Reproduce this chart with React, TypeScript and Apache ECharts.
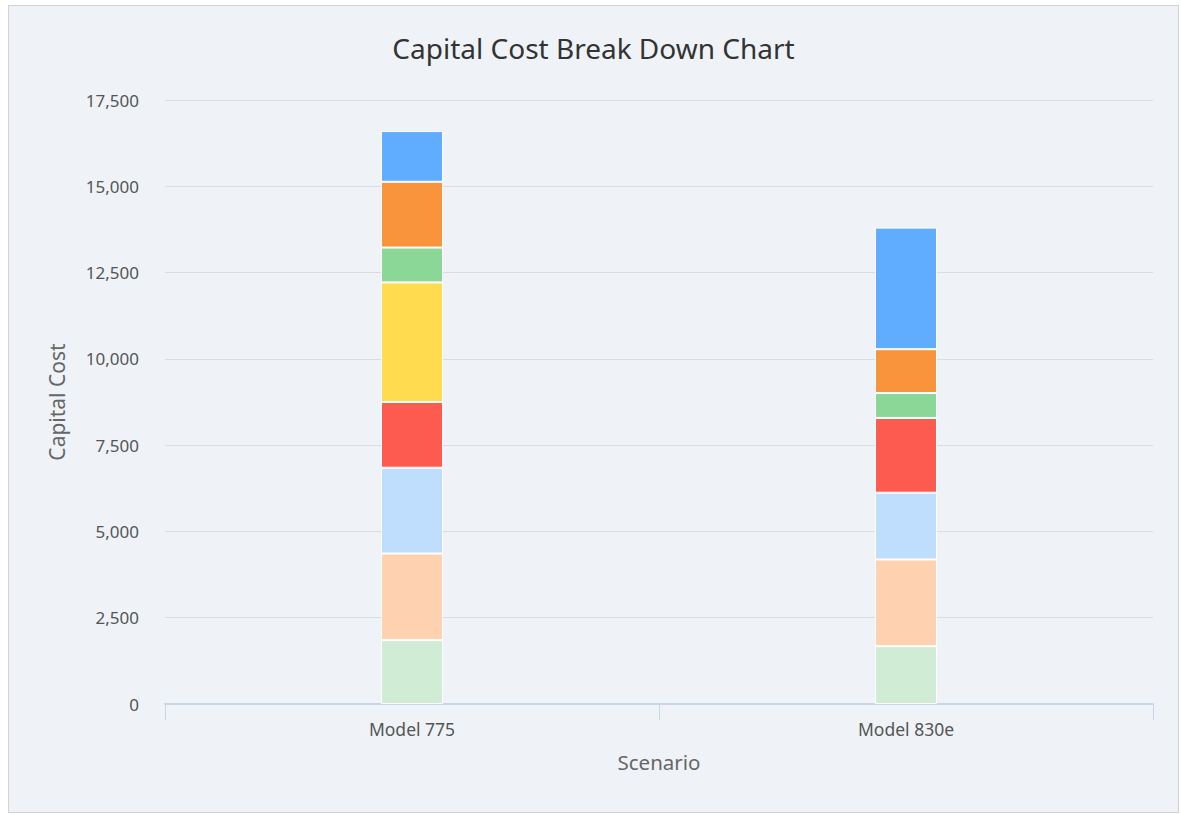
import React, { useEffect, useRef } from "react";
import * as echarts from "echarts";

const categories = ["Model 775", "Model 830e"];
const seriesNames = ["Cost 1", "Cost 2", "Cost 3", "Cost 4", "Cost 5", "Cost 6", "Cost 7", "Cost 8"];
const seriesColors = ["#d1ecd4", "#fed2b0", "#bfddfd", "#fe5b50", "#fedb4f", "#8ad797", "#fa943c", "#60acfe"];
const cost1 = [1850, 1675];
const cost2 = [2510, 2512];
const cost3 = [2485, 1935];
const cost4 = [1905, 2166];
const cost5 = [3465, 0];
const cost6 = [1010, 722];
const cost7 = [1905, 1270];
const cost8 = [1470, 3523];
const seriesValues = [cost1, cost2, cost3, cost4, cost5, cost6, cost7, cost8];
const yTicks = { min: 0, max: 17500, interval: 2500 };

const FONT = "'Noto Sans', 'Open Sans', sans-serif";

export default function App() {
  const ref = useRef<HTMLDivElement>(null);
  useEffect(() => {
    if (!ref.current) return;
    const chart = echarts.init(ref.current, null, { renderer: "svg" });
    chart.setOption({
      animation: false,
      backgroundColor: "#eff3f7",
      title: {
        text: "Capital Cost Break Down Chart",
        left: "center",
        top: 23,
        textStyle: { fontFamily: FONT, fontSize: 28, fontWeight: "normal", color: "#333" },
      },
      grid: { left: 156, right: 25, top: 94, bottom: 108, containLabel: false },
      xAxis: {
        type: "category",
        data: categories,
        name: "Scenario",
        nameLocation: "middle",
        nameGap: 47,
        nameTextStyle: { fontFamily: FONT, fontSize: 20.5, color: "#666" },
        axisLine: { lineStyle: { color: "#c9d7e5", width: 2 } },
        axisTick: { show: true, length: 16, lineStyle: { color: "#c9d7e5" } },
        axisLabel: { fontFamily: FONT, fontSize: 17.5, color: "#555", margin: 16 },
      },
      yAxis: {
        type: "value",
        min: yTicks.min,
        max: yTicks.max,
        interval: yTicks.interval,
        name: "Capital Cost",
        nameLocation: "middle",
        nameGap: 98,
        nameRotate: 90,
        nameTextStyle: { fontFamily: FONT, fontSize: 21, color: "#666" },
        axisLine: { show: false },
        axisTick: { show: false },
        axisLabel: {
          fontFamily: FONT,
          fontSize: 17,
          color: "#555",
          margin: 26,
          formatter: (v: number) => v.toLocaleString("en-US"),
        },
        splitLine: { lineStyle: { color: "#d8dde2", width: 1 } },
      },
      series: seriesNames.map((name, i) => ({
        name,
        type: "bar",
        stack: "total",
        barWidth: 62,
        data: seriesValues[i],
        itemStyle: { color: seriesColors[i], borderColor: "#ffffff", borderWidth: 1 },
      })),
    });
    return () => chart.dispose();
  }, []);
  return (
    <div
      style={{
        position: "fixed",
        left: 8,
        top: 5,
        width: 1171,
        height: 808,
        border: "1px solid #cfd3d6",
        boxSizing: "border-box",
        background: "#eff3f7",
      }}
    >
      <div ref={ref} style={{ width: "100%", height: "100%" }} />
    </div>
  );
}
